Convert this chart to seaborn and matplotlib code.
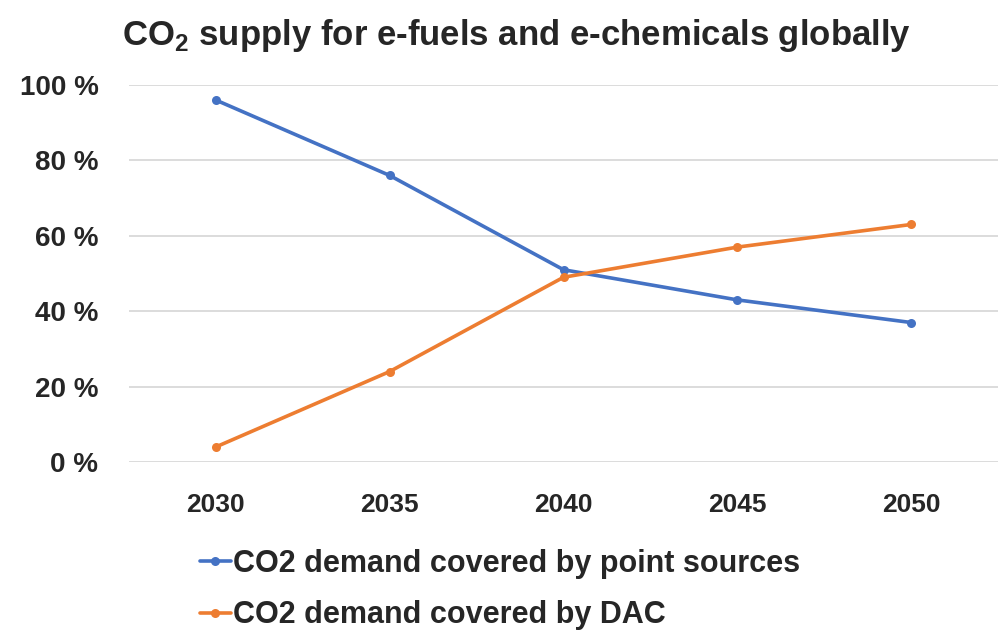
import pandas as pd
import matplotlib.pyplot as plt
import seaborn as sns
from matplotlib import font_manager

# Data
years = ["2030", "2035", "2040", "2045", "2050"]
point_sources = [96, 76, 51, 43, 37]
dac = [4, 24, 49, 57, 63]
series_names = ["CO2 demand covered by point sources", "CO2 demand covered by DAC"]
colors = ["#4472C4", "#ED7D31"]
y_ticks = [0, 20, 40, 60, 80, 100]

df = pd.DataFrame({
    "year": years * 2,
    "share": point_sources + dac,
    "series": [series_names[0]] * len(years) + [series_names[1]] * len(years),
})

sns.set_style("white")
names = {f.name for f in font_manager.fontManager.ttflist}
font = "Liberation Sans Narrow" if "Liberation Sans Narrow" in names else "Liberation Sans"
plt.rcParams["font.family"] = [font, "DejaVu Sans"]
plt.rcParams["font.weight"] = "bold"
plt.rcParams["mathtext.fontset"] = "custom"
plt.rcParams["mathtext.rm"] = f"{font}:bold"

fig = plt.figure(figsize=(10.02, 6.32), dpi=100)
ax = fig.add_axes([129 / 1002, 1 - 462 / 632, (998 - 129) / 1002, (462 - 85) / 632])

sns.lineplot(data=df, x="year", y="share", hue="series", palette=colors,
             marker="o", markersize=6.5, markeredgewidth=0, linewidth=2.6,
             sort=False, ax=ax)

ax.set_xlim(-0.5, len(years) - 0.5)
ax.set_ylim(0, 100)
ax.set_yticks(y_ticks)
ax.set_yticklabels([f"{t} %" for t in y_ticks])
ax.grid(axis="y", color="#D9D9D9", linewidth=1.3)
ax.set_axisbelow(True)
for s in ax.spines.values():
    s.set_visible(False)
ax.tick_params(axis="both", length=0)
ax.tick_params(axis="y", pad=22, labelsize=20)
ax.tick_params(axis="x", pad=22, labelsize=19)
ax.set_xlabel("")
ax.set_ylabel("")

ax.legend(loc="upper left", bbox_to_anchor=(200 / 1002, 1 - 549 / 632),
          bbox_transform=fig.transFigure, borderaxespad=0, borderpad=0,
          frameon=False, fontsize=22, handlelength=1.0, handletextpad=0.08,
          labelspacing=0.7)

fig.text(122 / 1002, 1 - 36 / 632, r"CO$_\mathrm{2}$ supply for e-fuels and e-chemicals globally",
         fontsize=25, fontweight="bold", va="center", ha="left")

fig.savefig("out.png", dpi=100, facecolor="white")
